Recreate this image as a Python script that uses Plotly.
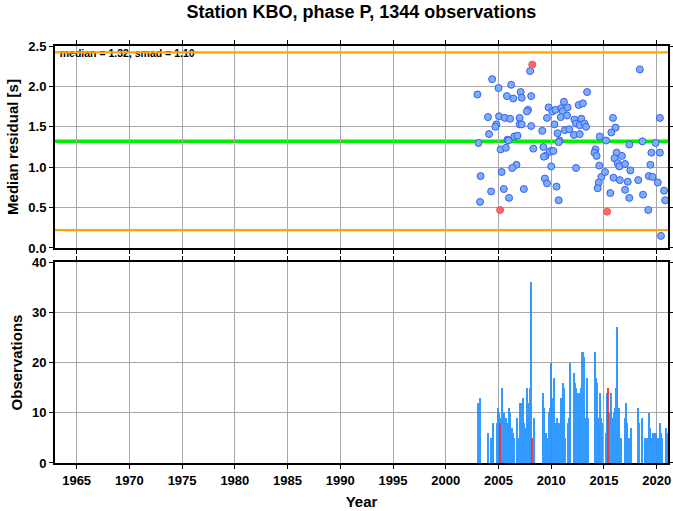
import plotly.graph_objects as go

title_text = "Station KBO, phase P, 1344 observations"
median = 1.32
smad = 1.10

# Median residual per time bin (blue = regular, red = flagged)
pt_years = [
    2008.0, 2004.4, 2005.0, 2006.2, 2003.0, 2005.8, 2006.4, 2007.1, 2007.2, 2008.1,
    2007.8, 2007.7, 2004.0, 2005.05, 2005.6, 2006.1, 2007.0, 2004.8, 2004.7, 2007.0,
    2007.2, 2008.1, 2004.1, 2006.5, 2006.8, 2005.85, 2005.95, 2003.1, 2005.2, 2005.7,
    2008.3, 2006.7, 2006.3, 2005.3, 2003.3, 2005.5, 2007.4, 2004.3, 2006.0, 2003.25,
    2013.4, 2011.2, 2012.6, 2013.0, 2009.75, 2010.1, 2010.4, 2010.95, 2011.1, 2011.55,
    2010.9, 2011.5, 2009.6, 2012.2, 2012.85, 2012.35, 2012.7, 2013.15, 2013.3, 2010.3,
    2009.15, 2011.3, 2011.7, 2010.6, 2012.15, 2012.7, 2014.6, 2010.8, 2010.7, 2009.25,
    2009.95, 2009.85, 2010.2, 2009.45, 2009.3, 2014.2, 2014.1, 2014.3, 2010.0, 2012.35,
    2014.55, 2014.75, 2009.4, 2009.6, 2014.5, 2010.5, 2014.4, 2010.7,
    2018.4, 2015.85, 2020.3, 2016.1, 2015.7, 2015.2, 2018.65, 2017.4, 2019.9, 2016.2,
    2019.5, 2020.3, 2016.0, 2016.7, 2016.3, 2016.45, 2017.0, 2019.4, 2015.1, 2017.5,
    2015.9, 2016.5, 2017.25, 2018.25, 2019.25, 2019.6, 2020.1, 2015.6, 2017.0, 2017.4,
    2018.7, 2020.7, 2020.8, 2019.2, 2020.4,
]
pt_resid = [
    2.19, 2.09, 1.98, 2.02, 1.90, 1.88, 1.85, 1.93, 1.86, 1.88,
    1.71, 1.69, 1.62, 1.63, 1.61, 1.60, 1.61, 1.53, 1.50, 1.53,
    1.53, 1.51, 1.41, 1.38, 1.39, 1.34, 1.33, 1.30, 1.22, 1.24,
    1.23, 1.03, 0.99, 0.94, 0.89, 0.73, 0.73, 0.70, 0.62, 0.57,
    1.93, 1.81, 1.77, 1.79, 1.74, 1.69, 1.71, 1.73, 1.69, 1.74,
    1.62, 1.64, 1.61, 1.59, 1.60, 1.54, 1.52, 1.54, 1.50, 1.53,
    1.45, 1.46, 1.47, 1.42, 1.40, 1.41, 1.38, 1.33, 1.31, 1.25,
    1.20, 1.19, 1.20, 1.14, 1.13, 1.22, 1.18, 1.14, 1.01, 0.99,
    1.02, 0.88, 0.86, 0.80, 0.81, 0.76, 0.74, 0.59,
    2.21, 1.61, 1.61, 1.49, 1.43, 1.33, 1.32, 1.28, 1.30, 1.18,
    1.18, 1.18, 1.11, 1.14, 1.05, 1.01, 1.04, 1.03, 0.94, 0.96,
    0.87, 0.84, 0.82, 0.84, 0.89, 0.88, 0.81, 0.68, 0.72, 0.62,
    0.66, 0.71, 0.59, 0.47, 0.15,
]
out_years = [2008.2, 2005.15, 2015.3]
out_resid = [2.27, 0.47, 0.45]

# Observations per bin
bar_years = [
    2003.07, 2003.12, 2003.22, 2003.27, 2004.05, 2004.28, 2004.45, 2004.5, 2004.85, 2004.94,
    2005.04, 2005.26, 2005.35, 2005.51, 2005.61, 2005.73, 2005.83, 2005.92, 2006.02, 2006.11,
    2006.21, 2006.3, 2006.43, 2006.52, 2006.78, 2006.9, 2007.1, 2007.19, 2007.29, 2007.38,
    2007.48, 2007.57, 2007.76, 2007.9, 2007.99, 2008.11, 2008.37,
    2009.19, 2009.24, 2009.32, 2009.51, 2009.64, 2009.76, 2009.9, 2009.99, 2010.09, 2010.18,
    2010.28, 2010.43, 2010.53, 2010.62, 2010.71, 2010.85, 2010.94, 2011.04, 2011.13, 2011.23,
    2011.35, 2011.57, 2011.67, 2011.76, 2012.21, 2012.3, 2012.4, 2012.5, 2012.59, 2012.69,
    2012.78, 2012.88, 2012.97, 2013.07, 2013.16, 2013.26, 2013.35, 2013.45, 2013.54,
    2014.18, 2014.28, 2014.37, 2014.47, 2014.56, 2014.66, 2014.75, 2014.85,
    2015.19, 2015.26, 2015.54, 2015.7, 2015.83, 2015.95, 2016.09, 2016.18, 2016.28, 2016.37,
    2016.47, 2016.66, 2017.0, 2017.13, 2017.23, 2017.35, 2017.48, 2017.61, 2018.21, 2018.33,
    2018.59, 2018.88, 2019.0, 2019.19, 2019.29, 2019.42, 2019.54, 2019.67, 2019.8, 2019.92,
    2020.14, 2020.33, 2020.43, 2020.56, 2020.9, 2021.0,
]
bar_counts = [
    12, 6, 13, 7, 6, 5, 8, 5, 8, 11,
    10, 9, 15, 10, 7, 9, 6, 8, 11, 10,
    7, 7, 6, 5, 9, 5, 12, 11, 12, 13,
    8, 7, 15, 12, 15, 36, 9,
    14, 11, 11, 6, 5, 10, 11, 20, 13, 11,
    17, 8, 9, 6, 8, 7, 13, 13, 16, 15,
    5, 8, 9, 20, 18, 16, 15, 14, 14, 13,
    14, 15, 22, 22, 21, 5, 9, 17, 9,
    22, 17, 16, 8, 9, 14, 9, 8,
    6, 14, 10, 14, 9, 10, 11, 15, 27, 8,
    11, 5, 9, 12, 8, 5, 5, 7, 11, 8,
    9, 5, 5, 5, 10, 7, 5, 6, 6, 6,
    5, 8, 6, 5, 7, 6,
]
out_bar_years = [2005.16, 2008.24, 2015.38]
out_bar_counts = [8, 5, 15]

x_tick_years = list(range(1965, 2021, 5))
x_range = [1962.95, 2021.07]

FONT = "Liberation Sans, Arial, Helvetica, sans-serif"
BLUE_BAR = "#1E90FF"

fig = go.Figure()

# annotation text (as trace so that the orange line crosses over it)
fig.add_trace(go.Scatter(
    x=[x_range[0] + 0.45], y=[2.40], mode="text",
    text=[f"median = {median:.2f}, smad = {smad:.2f}"],
    textposition="middle right",
    textfont=dict(family=FONT, size=10.5, color="black", weight="bold"),
    xaxis="x", yaxis="y", showlegend=False, hoverinfo="skip",
))

fig.add_trace(go.Scatter(
    x=pt_years, y=pt_resid, mode="markers",
    marker=dict(size=7, color="#7AAEF8", line=dict(color="#3C5CF5", width=1)),
    xaxis="x", yaxis="y", showlegend=False,
))
fig.add_trace(go.Scatter(
    x=out_years, y=out_resid, mode="markers",
    marker=dict(size=7, color="#FF6666", line=dict(color="#F55050", width=1)),
    xaxis="x", yaxis="y", showlegend=False,
))

fig.add_trace(go.Bar(
    x=bar_years, y=bar_counts, width=0.13,
    marker=dict(color=BLUE_BAR, line=dict(width=0)), opacity=0.9,
    xaxis="x2", yaxis="y2", showlegend=False,
))
fig.add_trace(go.Bar(
    x=out_bar_years, y=out_bar_counts, width=0.13,
    marker=dict(color="#F03030", line=dict(width=0)), opacity=0.9,
    xaxis="x2", yaxis="y2", showlegend=False,
))

# reference lines
fig.add_shape(type="line", xref="x domain", yref="y", x0=0, x1=1, y0=median, y1=median,
              line=dict(color="#00EE00", width=3.5), layer="below")
for yv in (median + smad, median - smad):
    fig.add_shape(type="line", xref="x domain", yref="y", x0=0, x1=1, y0=yv, y1=yv,
                  line=dict(color="#FFA500", width=2.2), layer="above")

axis_common = dict(
    showline=True, linecolor="black", linewidth=2, mirror="ticks",
    ticks="outside", ticklen=4, tickwidth=1, tickcolor="black",
    showgrid=True, gridcolor="#A8A8A8", gridwidth=1, zeroline=False,
    automargin=False,
    tickfont=dict(family=FONT, size=13, color="black", weight="bold"),
)

fig.update_layout(
    width=673, height=511,
    margin=dict(l=55, r=5, t=46, b=48, autoexpand=False),
    paper_bgcolor="white", plot_bgcolor="white",
    barmode="overlay", bargap=0,
    font=dict(family=FONT, color="black"),
    title=dict(text=title_text, x=0.5, xref="paper", y=1 - 12 / 511, yref="container",
               yanchor="middle", xanchor="center",
               font=dict(family=FONT, size=18, color="black", weight="bold")),
    xaxis=dict(domain=[0, 1], range=x_range, anchor="y", tickvals=x_tick_years,
               showticklabels=False, **axis_common),
    yaxis=dict(domain=[0.5156, 1.0], range=[0, 2.5], anchor="x", dtick=0.5, tickformat=".1f",
               title=dict(text="Median residual [s]", standoff=6,
                          font=dict(family=FONT, size=15, color="black", weight="bold")),
               **axis_common),
    xaxis2=dict(domain=[0, 1], range=x_range, anchor="y2", tickvals=x_tick_years,
                title=dict(text="Year", standoff=10,
                           font=dict(family=FONT, size=15, color="black", weight="bold")),
                **axis_common),
    yaxis2=dict(domain=[0, 0.482], range=[0, 40], anchor="x2", dtick=10,
                title=dict(text="Observations", standoff=6,
                           font=dict(family=FONT, size=15, color="black", weight="bold")),
                **axis_common),
)

fig.write_html("out.html", config={"displayModeBar": False},
               post_script="document.body.style.margin='0';document.body.style.overflow='hidden';")
